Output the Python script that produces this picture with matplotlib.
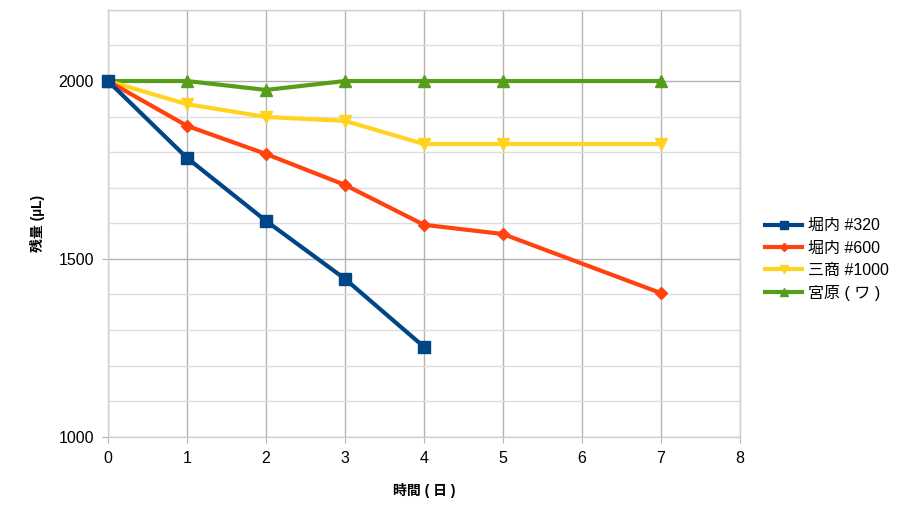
import matplotlib
matplotlib.use("Agg")
import matplotlib.pyplot as plt
from matplotlib.ticker import MultipleLocator

plt.rcParams["font.family"] = ["Liberation Sans", "Noto Sans CJK JP", "DejaVu Sans"]

# data
days_320 = [0, 1, 2, 3, 4]
vol_320 = [2000, 1784, 1607, 1444, 1253]

days_600 = [0, 1, 2, 3, 4, 5, 7]
vol_600 = [2000, 1874, 1795, 1708, 1596, 1570, 1404]

days_1000 = [0, 1, 2, 3, 4, 5, 7]
vol_1000 = [2000, 1935, 1899, 1888, 1823, 1823, 1823]

days_wa = [0, 1, 2, 3, 4, 5, 7]
vol_wa = [2000, 2000, 1975, 2000, 2000, 2000, 2000]

labels = ["堀内 #320", "堀内 #600", "三商 #1000", "宮原 ( ワ )"]
colors = ["#004586", "#ff420e", "#ffd320", "#579d1c"]
markers = ["s", "D", "v", "^"]
msizes = [8, 6, 8, 8]

fig = plt.figure(figsize=(9, 5.2), dpi=100)
ax = fig.add_axes([0.12, 0.16, 0.702, 0.821])

series = [(days_320, vol_320), (days_600, vol_600), (days_1000, vol_1000), (days_wa, vol_wa)]
for i, ((xs, ys), lab, c, m, ms) in enumerate(zip(series, labels, colors, markers, msizes)):
    ax.plot(xs, ys, color=c, marker=m, markersize=ms, linewidth=3,
            label=lab, zorder=10 - i, clip_on=False)

ax.set_xlim(0, 8)
ax.set_ylim(1000, 2200)
ax.xaxis.set_major_locator(MultipleLocator(1))
ax.yaxis.set_major_locator(MultipleLocator(500))
ax.yaxis.set_minor_locator(MultipleLocator(100))

ax.grid(which="major", color="#b3b3b3", linewidth=1)
ax.grid(which="minor", axis="y", color="#dddddd", linewidth=1)
ax.set_axisbelow(True)
for s in ax.spines.values():
    s.set_color("#d0d0d0")
    s.set_linewidth(1)

ax.tick_params(which="major", length=4, color="#b3b3b3", labelsize=11.5, pad=6)
ax.tick_params(which="minor", length=0)

ax.set_xlabel("時間 ( 日 )", fontsize=10, fontweight="bold")
ax.xaxis.set_label_coords(0.5, -0.108)
ax.set_ylabel("残量 (µL)", fontsize=10, fontweight="bold")
ax.yaxis.set_label_coords(-0.1, 0.5)

ax.legend(loc="center left", bbox_to_anchor=(1.03, 0.415), frameon=False,
          fontsize=11.5, handlelength=2.3, handletextpad=0.4, labelspacing=0.45,
          borderaxespad=0, markerscale=0.7)

fig.savefig("out.png", dpi=100)
